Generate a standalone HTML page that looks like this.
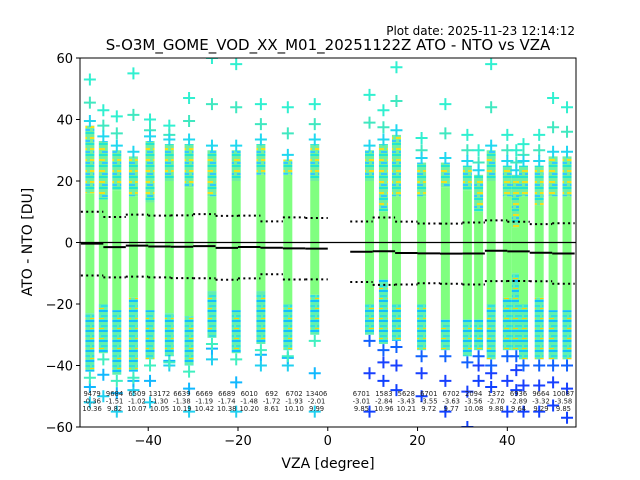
<!DOCTYPE html>
<html><head><meta charset="utf-8"><style>
body{margin:0;background:#fff}
svg{display:block;font-family:"DejaVu Sans","Liberation Sans",sans-serif}
</style></head><body>
<svg id="chart" width="640" height="480" viewBox="0 0 640 480">
<defs>
<pattern id="mixUp" width="9" height="11" patternUnits="userSpaceOnUse">
<rect width="9" height="11" fill="#70f0a0"/><rect y="0" width="9" height="2" fill="#20e8d0"/><rect x="0" y="5" width="6" height="2" fill="#f0e020"/><rect x="3" y="8" width="6" height="2" fill="#30c8ff"/>
</pattern>
<pattern id="mixDn" width="9" height="10" patternUnits="userSpaceOnUse">
<rect width="9" height="10" fill="#60f0b0"/><rect y="0" width="9" height="2" fill="#10c0ff"/><rect x="2" y="5" width="7" height="2" fill="#30e0e0"/><rect x="0" y="8" width="5" height="1" fill="#ffd000"/>
</pattern>
</defs>
<text x="575" y="35" text-anchor="end" font-size="12">Plot date: 2025-11-23 12:14:12</text>
<text x="328" y="50" text-anchor="middle" font-size="15">S-O3M_GOME_VOD_XX_M01_20251122Z ATO - NTO vs VZA</text>
<g id="plot"></g>
<text x="328" y="468" text-anchor="middle" font-size="14">VZA [degree]</text>
<text transform="translate(32,242) rotate(-90)" text-anchor="middle" font-size="14">ATO - NTO [DU]</text>
</svg>
<script>
const colVza=[-53,-50,-47,-43.3,-39.6,-35.3,-30.9,-25.8,-20.4,-14.9,-8.9,-2.9,9.3,12.4,15.3,20.9,26.2,31.1,33.6,36.4,40,42,43.6,47.1,50.2,53.3];
const colMax=[53,43,41,55,40,38,47,60,58,45,44,45,48,43,57,34,45,35,30,58,35,30,32,35,47,44];
const colMixTop=[38,33,30,28,33,32,32,30,30,32,27,32,30,32,35,26,26,25,22,30,25,22,25,25,28,28];
const colGreenTop=[16,14,17,15,13,20,18,15,20,22,22,20,20,10,15,15,18,17,10,20,15,5,15,12,15,15];
const colGreenBot=[-23,-20,-22,-18,-22,-23,-24,-16,-22,-16,-20,-17,-20,-12,-20,-20,-25,-25,-25,-20,-18,-10,-20,-18,-22,-22];
const colMixBot=[-42,-36,-43,-42,-38,-37,-40,-31,-36,-33,-35,-30,-30,-33,-32,-35,-35,-37,-35,-38,-35,-35,-38,-38,-38,-38];
const colMin=[-52,-50,-55,-48,-52,-40,-55,-38,-55,-40,-40,-55,-55,-45,-48,-50,-55,-60,-45,-47,-55,-48,-55,-55,-53,-57];
const binLo=[-55,-50,-45,-40,-35,-30,-25,-20,-15,-10,-5,5,10,15,20,25,30,35,40,45,50];
const binCount=[9479,9684,6509,13172,6639,6669,6689,6010,692,6702,13406,6701,1583,5628,6701,6702,2094,1372,6936,9664,10087];
const binMean=[-0.36,-1.51,-1.02,-1.30,-1.38,-1.19,-1.74,-1.48,-1.72,-1.93,-2.01,-3.01,-2.84,-3.43,-3.55,-3.63,-3.56,-2.70,-2.89,-3.32,-3.58];
const binStd=[10.36,9.82,10.07,10.05,10.19,10.42,10.38,10.20,8.61,10.10,9.99,9.85,10.96,10.21,9.72,9.77,10.08,9.88,9.64,9.29,9.85];
const xTicks=[-40,-20,0,20,40];
const yTicks=[-60,-40,-20,0,20,40,60];

const L=80,R=576,T=58,B=427,x0=-55.2,x1=55.3,y0=-60,y1=60;
const X=v=>L+(v-x0)/(x1-x0)*(R-L);
const Y=v=>B-(v-y0)/(y1-y0)*(B-T);
const NS='http://www.w3.org/2000/svg';
const g=document.getElementById('plot');
function mk(tag,attrs,parent){const e=document.createElementNS(NS,tag);for(const k in attrs)e.setAttribute(k,attrs[k]);(parent||g).appendChild(e);return e;}
const clip=mk('clipPath',{id:'pc'});mk('rect',{x:L,y:T,width:R-L,height:B-T},clip);
const inner=mk('g',{'clip-path':'url(#pc)'});
const W=9;
function plus(x,y,c){const p=mk('path',{d:`M${x-6},${y}h12M${x},${y-6}v12`,stroke:c,'stroke-width':2,fill:'none'},inner);

}
colVza.forEach((v,i)=>{
 const cx=X(v);
 const a=mk('rect',{x:cx-W/2,y:Y(colMixTop[i]),width:W,height:Y(colGreenTop[i])-Y(colMixTop[i]),fill:'url(#mixUp)'},inner);
 
 
 const c=mk('rect',{x:cx-W/2,y:Y(colGreenTop[i]),width:W,height:Y(colGreenBot[i])-Y(colGreenTop[i]),fill:'#80ff80'},inner);
 
 
 const b=mk('rect',{x:cx-W/2,y:Y(colGreenBot[i]),width:W,height:Y(colMixBot[i])-Y(colGreenBot[i]),fill:'url(#mixDn)'},inner);
 
 
 const up=(colMax[i]+colMixTop[i])/2, dn=(colMin[i]+colMixBot[i])/2;
 plus(cx,Y(colMax[i]),'#30f0d0');
 plus(cx,Y(up),'#40e8c0');
 plus(cx,Y(colMixTop[i]+1.5),'#20d8f0');
 plus(cx,Y(colMin[i]),v>0?'#1040ff':'#20d0f0');
 plus(cx,Y(dn),v>0?'#1840ff':'#10b8ff');
 plus(cx,Y(colMixBot[i]-2),v>0?'#1060ff':'#40f0c0');
});
const zl=mk('line',{x1:L,x2:R,y1:Y(0),y2:Y(0),stroke:'#000','stroke-width':1.3},inner);


binLo.forEach((lo,i)=>{
 const xa=X(lo),xb=X(lo+5);
 const m=mk('line',{x1:xa,x2:xb,y1:Y(binMean[i]),y2:Y(binMean[i]),stroke:'#000','stroke-width':2},inner);
 
 
 [1,-1].forEach(sg=>{const d=mk('line',{x1:xa,x2:xb,y1:Y(binMean[i]+sg*binStd[i]),y2:Y(binMean[i]+sg*binStd[i]),stroke:'#000','stroke-width':2,'stroke-dasharray':'2 3.3'},inner);
 
 });
 const cx=(xa+xb)/2;
 [binCount[i],binMean[i].toFixed(2),binStd[i].toFixed(2)].forEach((t,j)=>{
  const tx=mk('text',{x:cx,y:396+j*7.5,'text-anchor':'middle','font-size':6.8,fill:'#222'},inner);
  tx.textContent=t;
  
  
 });
});
const fr=mk('rect',{x:L,y:T,width:R-L,height:B-T,fill:'none',stroke:'#000','stroke-width':1});


xTicks.forEach(v=>{
 const t=mk('line',{x1:X(v),x2:X(v),y1:B,y2:B+4,stroke:'#000'});
 
 
 const l=mk('text',{x:X(v),y:B+18,'text-anchor':'middle','font-size':13});
 l.textContent=v<0?'\u2212'+(-v):v;
 
 
});
yTicks.forEach(v=>{
 const t=mk('line',{x1:L-4,x2:L,y1:Y(v),y2:Y(v),stroke:'#000'});
 
 
 const l=mk('text',{x:L-7,y:Y(v)+5,'text-anchor':'end','font-size':13});
 l.textContent=v<0?'\u2212'+(-v):v;
 
 
});
</script>
</body></html>
